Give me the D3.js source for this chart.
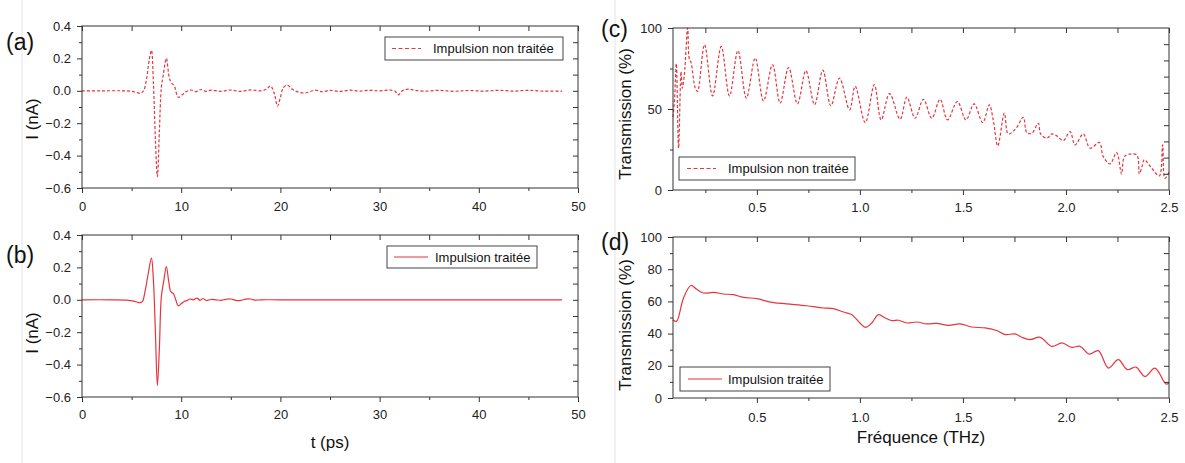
<!DOCTYPE html>
<html>
<head>
<meta charset="utf-8">
<script src="https://cdn.jsdelivr.net/npm/d3@7"></script>
<style>
  html, body { margin: 0; padding: 0; background: #fff; }
  svg { display: block; font-family: "Liberation Sans", Arial, sans-serif; }
</style>
</head>
<body>
<svg id="chart" width="1185" height="463"></svg>
<script>
// ---------------- DATA ----------------
// (a) raw pulse: time (ps) and current (nA)
const tA = [0, 2, 4, 5, 5.5, 5.9, 6.2, 6.5, 6.8, 7.0, 7.2, 7.4, 7.6, 7.8, 8.0, 8.2, 8.5, 8.8, 9.0, 9.3, 9.7, 10.1, 10.5, 11, 11.5, 12, 12.5, 13, 14, 15, 16, 17, 18, 18.6, 19.0, 19.4, 19.7, 20.0, 20.3, 20.7, 21.2, 21.8, 22.6, 23.5, 24.2, 25, 26, 27, 28, 29, 30, 31, 31.5, 31.9, 32.3, 32.9, 33.5, 34.5, 36, 37.5, 39, 40.5, 42, 43.5, 45, 46.5, 48.4];
const iA = [0, 0, 0, -0.003, -0.01, -0.015, 0.0, 0.07, 0.2, 0.25, 0.05, -0.3, -0.53, -0.25, 0.02, 0.1, 0.2, 0.08, 0.05, 0.03, -0.04, -0.025, -0.005, 0.005, -0.005, 0.008, -0.003, 0.004, -0.003, 0.005, -0.004, 0.006, 0.0, 0.01, 0.03, -0.02, -0.095, -0.04, 0.02, 0.035, 0.01, -0.008, -0.012, 0.004, -0.006, 0.003, -0.004, 0.004, -0.002, 0.003, 0.0, 0.004, 0.0, -0.025, 0.0, 0.01, 0.004, -0.002, 0.003, -0.003, 0.002, -0.002, 0.003, -0.002, 0.003, -0.002, -0.002];

// (b) processed pulse
const tB = [0, 3, 4.5, 5.2, 5.6, 5.9, 6.1, 6.35, 6.7, 7.0, 7.2, 7.4, 7.6, 7.8, 8.0, 8.25, 8.5, 8.75, 8.95, 9.2, 9.45, 9.7, 10.0, 10.3, 10.55, 10.9, 11.2, 11.6, 11.9, 12.2, 12.5, 13, 13.5, 14, 14.5, 15, 15.5, 16, 16.5, 17, 17.5, 18, 20, 30, 40, 48.4];
const iB = [0, 0, -0.002, -0.008, -0.015, -0.017, -0.01, 0.05, 0.17, 0.257, 0.12, -0.2, -0.53, -0.3, 0.02, 0.12, 0.205, 0.11, 0.05, 0.04, 0.0, -0.037, -0.025, -0.01, -0.005, 0.005, 0.0, 0.01, -0.003, 0.008, -0.004, 0.002, 0.0, -0.003, 0.003, 0.005, -0.003, -0.004, 0.004, 0.005, -0.002, 0.0, 0, 0, 0, 0];

// (c) transmission of raw pulse: frequency (THz), transmission (%)
const fC = [0.093, 0.1, 0.109, 0.12, 0.132, 0.138, 0.148, 0.164, 0.172, 0.18, 0.201, 0.212, 0.246, 0.285, 0.327, 0.367, 0.408, 0.449, 0.492, 0.532, 0.576, 0.613, 0.654, 0.697, 0.738, 0.78, 0.82, 0.859, 0.901, 0.95, 0.977, 1.026, 1.07, 1.103, 1.144, 1.195, 1.228, 1.268, 1.308, 1.349, 1.389, 1.425, 1.473, 1.515, 1.554, 1.596, 1.628, 1.647, 1.669, 1.701, 1.72, 1.758, 1.793, 1.81, 1.834, 1.866, 1.877, 1.907, 1.931, 1.955, 1.987, 2.02, 2.044, 2.084, 2.117, 2.162, 2.181, 2.214, 2.246, 2.27, 2.286, 2.343, 2.356, 2.37, 2.38, 2.41, 2.453, 2.469, 2.48, 2.5];
const trC = [45, 55, 78, 25.8, 73, 62.8, 71, 100, 81, 79, 62.9, 60.8, 89.7, 58.1, 88.6, 58.1, 86, 56.7, 81.4, 55, 77.3, 53.6, 75.6, 53.2, 73.6, 52.6, 74, 52, 69, 49.5, 64, 41.6, 65, 43.3, 59.5, 43.7, 57.3, 44.3, 56, 44.3, 56, 43.3, 54.6, 43.3, 53.2, 41.6, 52.6, 43.3, 27.2, 47.4, 34.6, 38.1, 44.9, 35.4, 35, 41.2, 34.6, 32, 34.6, 33.4, 30.5, 36, 27.8, 34.6, 25.8, 29.3, 20.6, 16.1, 23.1, 9.9, 21, 21.6, 9.9, 15, 18.7, 14.5, 8.7, 27.8, 7.2, 11];

// (d) transmission of processed pulse
const fD = [0.093, 0.11, 0.144, 0.18, 0.208, 0.241, 0.29, 0.338, 0.386, 0.435, 0.5, 0.565, 0.645, 0.742, 0.823, 0.871, 0.92, 0.96, 1.0, 1.026, 1.058, 1.09, 1.123, 1.155, 1.187, 1.228, 1.276, 1.325, 1.373, 1.43, 1.486, 1.543, 1.608, 1.664, 1.705, 1.753, 1.786, 1.826, 1.875, 1.931, 1.98, 2.028, 2.068, 2.113, 2.157, 2.206, 2.254, 2.298, 2.34, 2.383, 2.432, 2.485, 2.5];
const trD = [48.6, 47.6, 62.1, 69.9, 67.5, 65.2, 65.6, 64.6, 64.2, 62.5, 61.7, 59.6, 58.5, 57.3, 55.9, 55.5, 53.4, 51.8, 46.6, 43.9, 46.6, 51.8, 49.7, 48.1, 48.3, 46.6, 47.2, 46.0, 46.4, 45.1, 46.0, 44.1, 43.5, 41.9, 39.4, 39.8, 37.7, 36.3, 37.7, 32.1, 34.2, 31.5, 32.1, 27.3, 29.4, 18.6, 23.8, 17.6, 19.2, 13.4, 18.6, 8.7, 9.3];

// tick labels
const timeTicks = [0, 10, 20, 30, 40, 50];
const currentTicks = [-0.6, -0.4, -0.2, 0.0, 0.2, 0.4];
const freqTicks = [0.5, 1.0, 1.5, 2.0, 2.5];
const transTicksC = [0, 50, 100];
const transTicksD = [0, 20, 40, 60, 80, 100];

const legendA = "Impulsion non traitée";
const legendB = "Impulsion traitée";

// ---------------- DRAWING ----------------
const svg = d3.select("#chart");
const RED = "#e8343c";
const AX = "#333";

// faint border lines of the source image
svg.append("line").attr("x1", 22).attr("x2", 22).attr("y1", 0).attr("y2", 463)
  .attr("stroke", "#e3e3e3").attr("stroke-width", 1);
svg.append("line").attr("x1", 615).attr("x2", 615).attr("y1", 0).attr("y2", 463)
  .attr("stroke", "#e3e3e3").attr("stroke-width", 1);

function range(a, b, s) { const out = []; for (let v = a; v <= b + 1e-9; v += s) out.push(+v.toFixed(4)); return out; }

function panel(cfg) {
  const x = d3.scaleLinear().domain(cfg.xDomain).range([cfg.x0, cfg.x1]);
  const y = d3.scaleLinear().domain(cfg.yDomain).range([cfg.y1, cfg.y0]);
  const g = svg.append("g");

  // data line
  const line = d3.line().x(d => x(d[0])).y(d => y(d[1])).curve(d3.curveCatmullRom.alpha(0.5));
  const pts = cfg.xs.map((v, i) => [v, cfg.ys[i]]);
  g.append("path").datum(pts).attr("d", line)
    .attr("fill", "none").attr("stroke", RED).attr("stroke-width", 1.2)
    .attr("stroke-dasharray", cfg.dashed ? "3,2" : null);

  // frame
  g.append("rect").attr("x", cfg.x0).attr("y", cfg.y0)
    .attr("width", cfg.x1 - cfg.x0).attr("height", cfg.y1 - cfg.y0)
    .attr("fill", "none").attr("stroke", AX).attr("stroke-width", 1);

  const styleAxis = sel => {
    sel.select(".domain").remove();
    sel.selectAll(".tick line").attr("stroke", AX);
    sel.selectAll(".tick text").attr("fill", "#222").style("font-size", "13px")
      .style("font-family", "'Liberation Sans', Arial, sans-serif");
  };

  // bottom major (labels) + minor
  g.append("g").attr("transform", `translate(0,${cfg.y1})`)
    .call(d3.axisBottom(x).tickValues(cfg.xTicks).tickSize(5).tickPadding(cfg.xPad).tickFormat(cfg.xFmt))
    .call(styleAxis);
  g.append("g").attr("transform", `translate(0,${cfg.y1})`)
    .call(d3.axisBottom(x).tickValues(cfg.xMinor).tickSize(3).tickFormat(""))
    .call(styleAxis);
  // top (inward)
  g.append("g").attr("transform", `translate(0,${cfg.y0})`)
    .call(d3.axisBottom(x).tickValues(cfg.xTicks.concat(cfg.xMinor)).tickSize(5).tickFormat(""))
    .call(styleAxis);
  // left major + minor
  g.append("g").attr("transform", `translate(${cfg.x0},0)`)
    .call(d3.axisLeft(y).tickValues(cfg.yTicks).tickSize(5).tickPadding(6).tickFormat(cfg.yFmt))
    .call(styleAxis);
  g.append("g").attr("transform", `translate(${cfg.x0},0)`)
    .call(d3.axisLeft(y).tickValues(cfg.yMinor).tickSize(3).tickFormat(""))
    .call(styleAxis);
  // right (inward)
  g.append("g").attr("transform", `translate(${cfg.x1},0)`)
    .call(d3.axisLeft(y).tickValues(cfg.yRight).tickSize(5).tickFormat(""))
    .call(styleAxis);

  // legend
  const L = cfg.legend;
  g.append("rect").attr("x", L.x).attr("y", L.y).attr("width", L.w).attr("height", L.h)
    .attr("fill", "#fff").attr("stroke", "#444").attr("stroke-width", 1);
  g.append("line").attr("x1", L.lx1).attr("x2", L.lx2)
    .attr("y1", L.y + L.h / 2).attr("y2", L.y + L.h / 2)
    .attr("stroke", RED).attr("stroke-width", 1.2)
    .attr("stroke-dasharray", cfg.dashed ? "4,2.5" : null);
  g.append("text").attr("x", L.tx).attr("y", L.y + L.h / 2).attr("dy", "0.36em")
    .attr("fill", "#111").style("font-size", "13px").text(L.text);

  // panel label
  svg.append("text").attr("x", cfg.lab.x).attr("y", cfg.lab.y)
    .style("font-size", "23px").attr("fill", "#111").text(cfg.lab.t);

  // y title
  svg.append("text").attr("transform", `translate(${cfg.yTitle.x},${cfg.yTitle.y}) rotate(-90)`)
    .attr("text-anchor", "middle").attr("dy", "0.36em")
    .style("font-size", "17px").attr("fill", "#111").text(cfg.yTitle.t);
}

const fmt1 = d3.format(".1f");
const fmt0 = d3.format("d");

panel({
  x0: 82, x1: 578, y0: 26, y1: 188, xDomain: [0, 50], yDomain: [-0.6, 0.4],
  xs: tA, ys: iA, dashed: true,
  xTicks: timeTicks, xMinor: [5, 15, 25, 35, 45], xPad: 9, xFmt: fmt0,
  yTicks: currentTicks, yMinor: [-0.5, -0.3, -0.1, 0.1, 0.3], yFmt: fmt1,
  yRight: range(-0.5, 0.3, 0.1),
  legend: { x: 385, y: 37, w: 178, h: 23, lx1: 392, lx2: 421, tx: 433, text: legendA },
  lab: { x: 6, y: 50, t: "(a)" },
  yTitle: { x: 32, y: 119, t: "I (nA)" }
});

panel({
  x0: 82, x1: 578, y0: 235, y1: 397, xDomain: [0, 50], yDomain: [-0.6, 0.4],
  xs: tB, ys: iB, dashed: false,
  xTicks: timeTicks, xMinor: [5, 15, 25, 35, 45], xPad: 8, xFmt: fmt0,
  yTicks: currentTicks, yMinor: [-0.5, -0.3, -0.1, 0.1, 0.3], yFmt: fmt1,
  yRight: range(-0.5, 0.3, 0.1),
  legend: { x: 387, y: 246, w: 150, h: 22, lx1: 394, lx2: 428, tx: 435, text: legendB },
  lab: { x: 6, y: 263, t: "(b)" },
  yTitle: { x: 32, y: 333, t: "I (nA)" }
});

panel({
  x0: 673, x1: 1169, y0: 28, y1: 190, xDomain: [0.093, 2.5], yDomain: [0, 100],
  xs: fC, ys: trC, dashed: true,
  xTicks: freqTicks, xMinor: [0.25, 0.75, 1.25, 1.75, 2.25], xPad: 8, xFmt: fmt1,
  yTicks: transTicksC, yMinor: [25, 75], yFmt: fmt0,
  yRight: range(10, 90, 10),
  legend: { x: 679, y: 157, w: 176, h: 23, lx1: 687, lx2: 716, tx: 728, text: legendA },
  lab: { x: 601, y: 37, t: "(c)" },
  yTitle: { x: 625, y: 114, t: "Transmission (%)" }
});

panel({
  x0: 673, x1: 1169, y0: 237, y1: 398, xDomain: [0.093, 2.5], yDomain: [0, 100],
  xs: fD, ys: trD, dashed: false,
  xTicks: freqTicks, xMinor: [0.25, 0.75, 1.25, 1.75, 2.25], xPad: 10, xFmt: fmt1,
  yTicks: transTicksD, yMinor: [10, 30, 50, 70, 90], yFmt: fmt0,
  yRight: range(10, 90, 10),
  legend: { x: 680, y: 367, w: 150, h: 24, lx1: 688, lx2: 722, tx: 728, text: legendB },
  lab: { x: 601, y: 250, t: "(d)" },
  yTitle: { x: 625, y: 325, t: "Transmission (%)" }
});

// x titles
svg.append("text").attr("x", 330).attr("y", 442).attr("dy", "0.36em").attr("text-anchor", "middle")
  .style("font-size", "17px").attr("fill", "#111").text("t (ps)");
svg.append("text").attr("x", 921).attr("y", 437).attr("dy", "0.36em").attr("text-anchor", "middle")
  .style("font-size", "17px").attr("fill", "#111").text("Fréquence (THz)");
</script>
</body>
</html>
